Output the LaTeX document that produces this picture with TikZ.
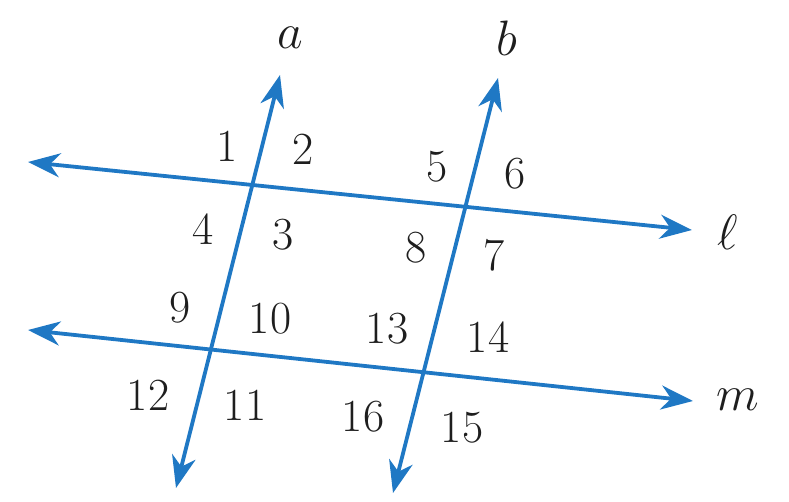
\documentclass[tikz,border=0pt]{standalone}
\usepackage{xcolor}
\usepackage{tikz}
\usetikzlibrary{arrows.meta}
\definecolor{lineblue}{HTML}{1F78C4}
\definecolor{textdark}{HTML}{1E1E1E}

\begin{document}
\begin{tikzpicture}[x=0.5pt, y=-0.5pt,
    ln/.style={{Stealth[length=16pt, width=12pt, inset=5pt]}-{Stealth[length=16pt, width=12pt, inset=5pt]},
               line width=1.9pt, lineblue},
    num/.style={inner sep=0pt, font=\fontsize{23}{27}\selectfont, text=textdark},
    lbl/.style={inner sep=0pt, font=\fontsize{27}{31}\selectfont, text=textdark},
]
    \useasboundingbox (0,0) rectangle (789,502);

    % end points of the four lines
    \coordinate (l1) at (28,162);
    \coordinate (l2) at (692,230);
    \coordinate (m1) at (28,330);
    \coordinate (m2) at (693,401);
    \coordinate (a1) at (176,488);
    \coordinate (a2) at (280,75);
    \coordinate (b1) at (393,493);
    \coordinate (b2) at (498,78);

    \draw[ln] (l1) -- (l2);
    \draw[ln] (m1) -- (m2);
    \draw[ln] (a1) -- (a2);
    \draw[ln] (b1) -- (b2);

    % line names
    \node[lbl] (la) at (290,38) {$a$};
    \node[lbl] (lb) at (507,38) {$b$};
    \node[lbl] (ll) at (728,232) {$\ell$};
    \node[lbl] (lm) at (738,400) {$m$};

    % angle numbers
    \node[num] (n1) at (227,146) {1};
    \node[num] (n2) at (303,149) {2};
    \node[num] (n3) at (283,235) {3};
    \node[num] (n4) at (203,229) {4};
    \node[num] (n5) at (437,167) {5};
    \node[num] (n6) at (515,174) {6};
    \node[num] (n7) at (494,255) {7};
    \node[num] (n8) at (416,248) {8};
    \node[num] (n9) at (180,308) {9};
    \node[num] (n10) at (270,319) {10};
    \node[num] (n11) at (245,405) {11};
    \node[num] (n12) at (148,395) {12};
    \node[num] (n13) at (387,329) {13};
    \node[num] (n14) at (488,337) {14};
    \node[num] (n15) at (462,428) {15};
    \node[num] (n16) at (363,417) {16};
\end{tikzpicture}
\end{document}
